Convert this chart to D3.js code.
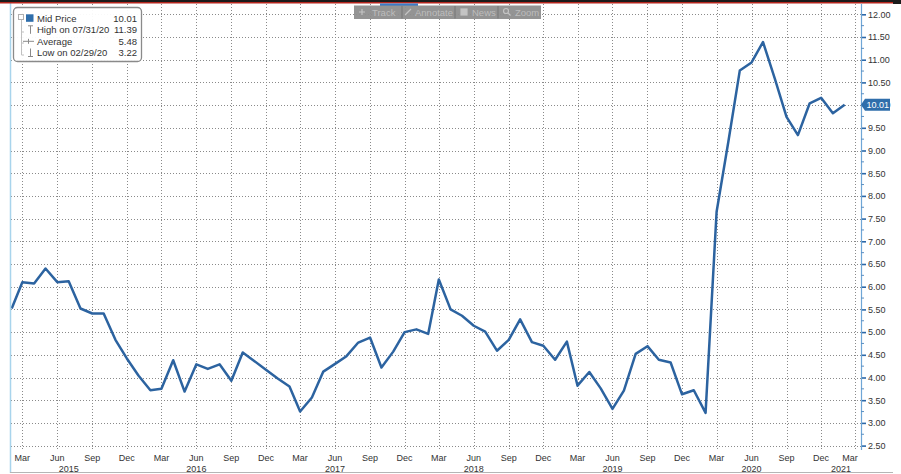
<!DOCTYPE html>
<html>
<head>
<meta charset="utf-8">
<script src="https://cdn.jsdelivr.net/npm/d3@7/dist/d3.min.js"></script>
<style>
  html, body { margin: 0; padding: 0; background: #fff; }
  svg { display: block; font-family: "Liberation Sans", Arial, sans-serif; }
</style>
</head>
<body>
<svg id="chart" width="901" height="474"></svg>
<script>
// ---- data ----
const startMonth = "2015-02";   // first monthly observation
const midPrice = [
  5.52, 6.10, 6.07, 6.40, 6.10, 6.12, 5.52, 5.41, 5.41, 4.83, 4.42, 4.04,
  3.72, 3.75, 4.38, 3.69, 4.29, 4.19, 4.29, 3.93, 4.55, 4.36, 4.17, 3.98,
  3.80, 3.25, 3.56, 4.13, 4.30, 4.47, 4.77, 4.88, 4.22, 4.57, 5.00, 5.06,
  4.96, 6.16, 5.50, 5.36, 5.14, 5.01, 4.59, 4.83, 5.28, 4.78, 4.70, 4.39,
  4.79, 3.82, 4.12, 3.76, 3.31, 3.71, 4.52, 4.69, 4.39, 4.33, 3.63, 3.72,
  3.22, 7.65, 9.20, 10.76, 10.94, 11.39, 10.59, 9.74, 9.34, 10.04, 10.16, 9.82,
  10.01
];
const yTicks = [2.5, 3, 3.5, 4, 4.5, 5, 5.5, 6, 6.5, 7, 7.5, 8, 8.5, 9, 9.5, 10, 10.5, 11, 11.5, 12];
const monthTickNames = ["Mar", "Jun", "Sep", "Dec"];
const monthTickDates = d3.timeMonth.range(new Date(2015, 2, 1), new Date(2021, 2, 2), 3);
const yearLabels = ["2015", "2016", "2017", "2018", "2019", "2020", "2021"];
const yearLabelDates = ["2015-07-01", "2016-06-01", "2017-06-01", "2018-06-01", "2019-06-01", "2020-06-01", "2021-06-01"];
const legendRows = [
  { label: "Mid Price", value: "10.01", sym: "box" },
  { label: "High on 07/31/20", value: "11.39", sym: "high" },
  { label: "Average", value: "5.48", sym: "avg" },
  { label: "Low on 02/29/20", value: "3.22", sym: "low" }
];
const toolbarItems = ["Track", "Annotate", "News", "Zoom"];
const lastValue = "10.01";

// ---- setup ----
const svg = d3.select("#chart");
const W = 901, H = 474;
const lineColor = "#2c63a0";
const parse = d3.timeParse("%Y-%m");
const t0 = parse(startMonth);
const series = midPrice.map((v, i) => ({ date: d3.timeMonth.offset(t0, i), value: v }));

const plotLeft = 11, axisX = 861, plotTop = 4, plotBottom = 450;
const x = d3.scaleTime()
  .domain([new Date(2015, 1, 1), new Date(2021, 2, 1)])
  .range([11.7, 855.3]);
const y = d3.scaleLinear().domain([2.5, 12]).range([445.6, 14.3]);

// frame
svg.append("rect").attr("x", 0).attr("y", 0).attr("width", W).attr("height", H).attr("fill", "#fff");

// gridlines
const grid = svg.append("g").attr("stroke", "#8a8a8a").attr("stroke-width", 1).attr("stroke-dasharray", "1,2");
grid.selectAll("line.h").data(yTicks).join("line")
  .attr("x1", plotLeft).attr("x2", axisX)
  .attr("y1", d => Math.round(y(d)) + 0.5).attr("y2", d => Math.round(y(d)) + 0.5);
grid.selectAll("line.v").data(monthTickDates).join("line")
  .attr("y1", plotTop).attr("y2", plotBottom)
  .attr("x1", d => Math.round(x(d)) + 0.5).attr("x2", d => Math.round(x(d)) + 0.5);

// series line
svg.append("path").datum(series)
  .attr("fill", "none").attr("stroke", lineColor).attr("stroke-width", 2.5)
  .attr("stroke-linejoin", "round")
  .attr("d", d3.line().x(d => x(d.date)).y(d => y(d.value)));

// right axis
const axis = d3.axisRight(y).tickValues(yTicks).tickSize(5).tickPadding(2).tickFormat(d3.format(".2f"));
const gAxis = svg.append("g").attr("transform", `translate(${axisX},0)`).call(axis);
gAxis.select(".domain").remove();
gAxis.selectAll(".tick line").attr("stroke", "#2a67a8").attr("stroke-width", 1.6);
gAxis.selectAll(".tick text").attr("fill", "#333").attr("font-size", 9)
  .attr("font-family", "Liberation Sans, Arial, sans-serif");
gAxis.append("line").attr("x1", 0.5).attr("x2", 0.5).attr("y1", plotTop).attr("y2", plotBottom)
  .attr("stroke", "#6fa6d6").attr("stroke-width", 1.2);
// minor ticks
gAxis.selectAll("line.minor").data(yTicks.slice(0, -1).map(d => d + 0.25)).join("line")
  .attr("x1", 0).attr("x2", 3)
  .attr("y1", d => y(d)).attr("y2", d => y(d))
  .attr("stroke", "#5b90c4").attr("stroke-width", 1);

// last value tag
const ty = y(midPrice[midPrice.length - 1]);
svg.append("path")
  .attr("d", `M${axisX},${ty} L${axisX + 4},${ty - 6} L${axisX + 29},${ty - 6} L${axisX + 29},${ty + 6} L${axisX + 4},${ty + 6} Z`)
  .attr("fill", "#2f6eab");
svg.append("text").attr("x", axisX + 5.5).attr("y", ty + 3.3)
  .attr("font-size", 9).attr("fill", "#fff").text(lastValue);

// x axis labels
const xl = svg.append("g").attr("font-size", 9).attr("fill", "#333");
xl.selectAll("text.m").data(monthTickDates).join("text")
  .attr("x", d => Math.min(x(d), axisX - 11))
  .attr("y", 460.5).attr("text-anchor", "middle")
  .text(d => monthTickNames[(d.getMonth() - 2) / 3]);
xl.selectAll("text.yr").data(yearLabels).join("text")
  .attr("x", (d, i) => Math.min(x(d3.timeParse("%Y-%m-%d")(yearLabelDates[i])), axisX - 20))
  .attr("y", 471.5).attr("text-anchor", "middle")
  .text(d => d);

// borders
svg.append("line").attr("x1", 10.5).attr("x2", 10.5).attr("y1", 3).attr("y2", 473)
  .attr("stroke", "#a8d4ec").attr("stroke-width", 1.5);
svg.append("line").attr("x1", 10).attr("x2", 893).attr("y1", 472.5).attr("y2", 472.5)
  .attr("stroke", "#b5b5b5").attr("stroke-width", 1);
svg.append("rect").attr("x", 0).attr("y", 0).attr("width", W).attr("height", 2).attr("fill", "#1b1b1b");
svg.append("rect").attr("x", 0).attr("y", 2).attr("width", 893).attr("height", 1.5).attr("fill", "#b3261e");
svg.append("rect").attr("x", 893).attr("y", 0).attr("width", 8).attr("height", 4).attr("fill", "#1b1b1b");

// toolbar
const tb = svg.append("g");
tb.append("rect").attr("x", 380).attr("y", 3.5).attr("width", 38).attr("height", 2.5).attr("fill", "#3a7bc8");
tb.append("rect").attr("x", 354).attr("y", 5.5).attr("width", 187).attr("height", 13.5)
  .attr("fill", "#8e8e8e").attr("opacity", 0.95);
const tbX = [372, 415, 472, 515];
const iconX = [362, 408, 464, 507];
const sepX = [402, 455, 498];
tb.selectAll("line.sep").data(sepX).join("line")
  .attr("x1", d => d).attr("x2", d => d).attr("y1", 6).attr("y2", 18.5)
  .attr("stroke", "#777").attr("stroke-width", 1);
tb.selectAll("text.item").data(toolbarItems).join("text")
  .attr("x", (d, i) => tbX[i]).attr("y", 15.5).attr("font-size", 9.5).attr("fill", "#bdbdbd").text(d => d);
const icons = tb.append("g").attr("stroke", "#c4c4c4").attr("fill", "none").attr("stroke-width", 1.2);
icons.append("path").attr("d", `M${iconX[0] - 3},12 h6 M${iconX[0]},9 v6`);
icons.append("path").attr("d", `M${iconX[1] - 3},15 L${iconX[1] + 3},9`);
icons.append("rect").attr("x", iconX[2] - 3).attr("y", 9).attr("width", 6).attr("height", 6).attr("fill", "#c4c4c4");
icons.append("circle").attr("cx", iconX[3] - 1).attr("cy", 11).attr("r", 2.5);
icons.append("path").attr("d", `M${iconX[3] + 1},13 L${iconX[3] + 3.5},15.5`);

// legend
const lg = svg.append("g");
lg.append("rect").attr("x", 13.5).attr("y", 7.5).attr("width", 128).attr("height", 54).attr("rx", 4)
  .attr("fill", "#fff").attr("fill-opacity", 0.95).attr("stroke", "#8a8a8a").attr("stroke-width", 1.3);
lg.append("rect").attr("x", 18.5).attr("y", 14.5).attr("width", 5).attr("height", 5)
  .attr("fill", "none").attr("stroke", "#b0b0b0");
lg.append("path").attr("d", "M21.5,20 V55 M21.5,32 H24 M21.5,43 H24 M21.5,55 H24")
  .attr("stroke", "#c0c0c0").attr("fill", "none");
const rowY = [21.8, 33.3, 44.8, 56];
legendRows.forEach((r, i) => {
  const yy = rowY[i];
  const cy = yy - 3.5;
  if (r.sym === "box") {
    lg.append("rect").attr("x", 26).attr("y", cy - 4).attr("width", 7.5).attr("height", 7.5).attr("fill", "#2f6eab");
  } else if (r.sym === "high") {
    lg.append("path").attr("d", `M28,${cy - 4} H33 M30.5,${cy - 4} V${cy + 4}`).attr("stroke", "#8a8a8a").attr("fill", "none");
  } else if (r.sym === "avg") {
    lg.append("path").attr("d", `M23,${cy} H34 M28.5,${cy - 2.5} V${cy + 2.5}`).attr("stroke", "#8a8a8a").attr("fill", "none");
  } else {
    lg.append("path").attr("d", `M28,${cy + 4} H33 M30.5,${cy + 4} V${cy - 4}`).attr("stroke", "#8a8a8a").attr("fill", "none");
  }
  lg.append("text").attr("x", 37).attr("y", yy).attr("font-size", 9.5).attr("fill", "#333").text(r.label);
  lg.append("text").attr("x", 137).attr("y", yy).attr("font-size", 9.5).attr("fill", "#333")
    .attr("text-anchor", "end").text(r.value);
});
</script>
</body>
</html>
